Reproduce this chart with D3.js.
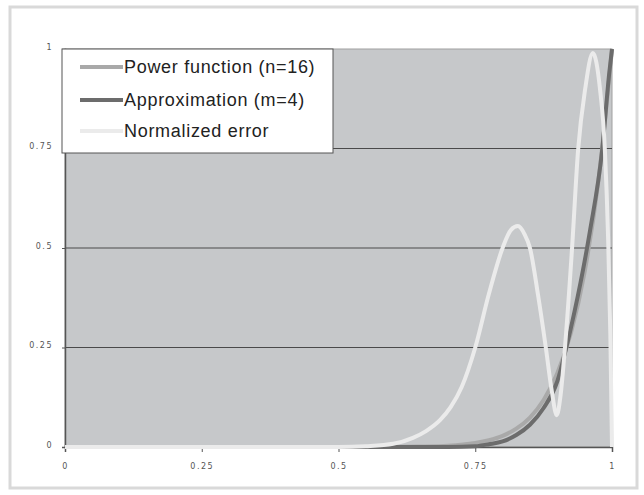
<!DOCTYPE html>
<html><head><meta charset="utf-8">
<script src="https://cdn.jsdelivr.net/npm/d3@7"></script>
<style>body{margin:0;background:#fff}svg{display:block}</style>
</head><body>
<svg id="c" width="644" height="495"></svg>
<script>
const xTicks = [0, 0.25, 0.5, 0.75, 1];
const xTickLabels = ["0", "0.25", "0.5", "0.75", "1"];
const yTicks = [0, 0.25, 0.5, 0.75, 1];
const yTickLabels = ["0", "0.25", "0.5", "0.75", "1"];
const seriesNames = ["Power function (n=16)", "Approximation (m=4)", "Normalized error"];

const powerX = [0, 0.5, 0.55, 0.6, 0.65, 0.7, 0.75, 0.775, 0.8, 0.825, 0.85, 0.875, 0.9, 0.925, 0.95, 0.975, 1];
const powerY = [0, 0, 0.0001, 0.0003, 0.001, 0.003, 0.01, 0.017, 0.028, 0.046, 0.074, 0.118, 0.185, 0.287, 0.44, 0.667, 1];

const approxX = [0, 0.6, 0.7, 0.75, 0.775, 0.8, 0.825, 0.85, 0.875, 0.9, 0.914, 0.925, 0.947, 0.96, 0.982, 0.995, 1];
const approxY = [0, 0, 0, 0.002, 0.007, 0.014, 0.03, 0.056, 0.098, 0.165, 0.236, 0.3, 0.445, 0.545, 0.746, 0.94, 1];

const errorX = [0, 0.5, 0.55, 0.6, 0.636, 0.66, 0.686, 0.705, 0.725, 0.75, 0.775, 0.8, 0.815, 0.828, 0.84, 0.85, 0.865, 0.879, 0.89, 0.899, 0.906, 0.914, 0.927, 0.938, 0.951, 0.965, 0.978, 0.987, 0.993, 0.997, 1];
const errorY = [0, 0, 0.002, 0.008, 0.023, 0.04, 0.068, 0.1, 0.15, 0.25, 0.385, 0.5, 0.545, 0.555, 0.535, 0.5, 0.38, 0.25, 0.14, 0.08, 0.13, 0.25, 0.5, 0.746, 0.9, 0.99, 0.9, 0.746, 0.52, 0.28, 0];

const colors = ["#a9a9a9", "#6c6c6c", "#ebebeb"];

const svg = d3.select("#c");
svg.append("rect").attr("x", 10).attr("y", 7).attr("width", 627).attr("height", 481)
  .attr("fill", "#fff").attr("stroke", "#d9d9d9").attr("stroke-width", 3);

const L = 65, R = 612, T = 49, B = 447;
const x = d3.scaleLinear().domain([0, 1]).range([L, R]);
const y = d3.scaleLinear().domain([0, 1]).range([B, T]);

svg.append("rect").attr("x", L).attr("y", T).attr("width", R - L).attr("height", B - T)
  .attr("fill", "#c6c8ca").attr("stroke", "#a0a0a0").attr("stroke-width", 1);

svg.append("g").selectAll("line").data(yTicks.filter(v => v > 0 && v < 1)).join("line")
  .attr("x1", L).attr("x2", R).attr("y1", d => y(d)).attr("y2", d => y(d))
  .attr("stroke", "#4a4a4a").attr("stroke-width", 1.2);

const xAxis = d3.axisBottom(x).tickValues(xTicks).tickFormat((d, i) => xTickLabels[i]).tickSize(5).tickPadding(11);
const gx = svg.append("g").attr("transform", `translate(0,${B})`).call(xAxis);
gx.select(".domain").attr("stroke", "#555").attr("stroke-width", 1.5);
gx.selectAll(".tick line").attr("stroke", "#555");
gx.selectAll("text").attr("fill", "#555").style("font-family", "DejaVu Sans, sans-serif").style("font-size", "8px").style("letter-spacing", "1.5px");

const yAxis = d3.axisLeft(y).tickValues(yTicks).tickFormat((d, i) => yTickLabels[i]).tickSize(3).tickPadding(9);
const gy = svg.append("g").attr("transform", `translate(${L},0)`).call(yAxis);
gy.select(".domain").attr("stroke", "#555").attr("stroke-width", 1.5);
gy.selectAll(".tick line").attr("stroke", "#555");
gy.selectAll("text").attr("fill", "#555").attr("dy", "0").style("font-family", "DejaVu Sans, sans-serif").style("font-size", "8px").style("letter-spacing", "1.5px");

const line = d3.line().x(d => x(d[0])).y(d => y(d[1])).curve(d3.curveMonotoneX);
const series = [
  d3.zip(powerX, powerY),
  d3.zip(approxX, approxY),
  d3.zip(errorX, errorY)
];
series.forEach((s, i) => {
  svg.append("path").datum(s).attr("d", line).attr("fill", "none")
    .attr("stroke", colors[i]).attr("stroke-width", 4).attr("stroke-linejoin", "round");
});

const lg = svg.append("g");
lg.append("rect").attr("x", 62).attr("y", 49).attr("width", 271).attr("height", 104)
  .attr("fill", "#fff").attr("stroke", "#555").attr("stroke-width", 1);
const rowsY = [67, 100, 131];
seriesNames.forEach((n, i) => {
  lg.append("line").attr("x1", 80).attr("x2", 123).attr("y1", rowsY[i]).attr("y2", rowsY[i])
    .attr("stroke", colors[i]).attr("stroke-width", 4);
  lg.append("text").attr("x", 124).attr("y", rowsY[i]).attr("dy", "0.35em")
    .attr("fill", "#222").style("font-family", "Liberation Sans, Arial, sans-serif").style("font-size", "18px")
    .style("letter-spacing", "0.7px")
    .text(n);
});
</script>
</body></html>
